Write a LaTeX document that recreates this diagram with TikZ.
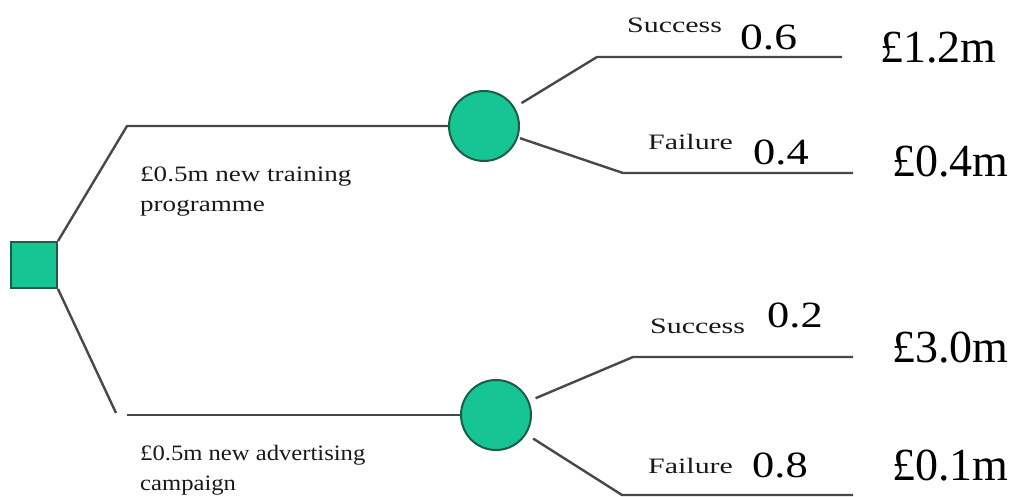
\documentclass[tikz,border=0pt]{standalone}
\usepackage{fontspec}
\usepackage{graphicx}
\usepackage{xcolor}
\setmainfont{Liberation Serif}
\definecolor{nodegreen}{RGB}{22,196,148}
\definecolor{rimgreen}{RGB}{28,92,72}
\definecolor{linegray}{RGB}{72,72,72}
\newcommand{\wide}[2]{\scalebox{#1}[1]{#2}}

\begin{document}
\begin{tikzpicture}[x=1pt, y=-1pt,
  branch/.style={draw=linegray, line width=2.4pt},
  decision/.style={rectangle, draw=rimgreen, fill=nodegreen, line width=2pt, minimum size=46pt, inner sep=0pt},
  chance/.style={circle, draw=rimgreen, fill=nodegreen, line width=2pt, minimum size=70pt, inner sep=0pt},
  small/.style={font=\fontsize{22}{30}\selectfont, text=black!90, inner sep=0pt, anchor=base west, align=left},
  prob/.style={font=\fontsize{37}{40}\selectfont, inner sep=0pt, anchor=base west},
  payoff/.style={font=\fontsize{46}{50}\selectfont, inner sep=0pt, anchor=base west}]
\useasboundingbox (0,0) rectangle (1012,497);
% decision and chance nodes
\node[decision] (choice) at (34,265) {};
\node[chance] (train) at (484,126) {};
\node[chance] (advert) at (496,415) {};
% knees and ends of the branches
\coordinate (trainknee) at (127,126);
\coordinate (advknee) at (116,413);
\coordinate (advstart) at (127,415);
\coordinate (s1knee) at (597,57);
\coordinate (s1end) at (842,57);
\coordinate (f1knee) at (623,173);
\coordinate (f1end) at (853,173);
\coordinate (s2knee) at (633,357);
\coordinate (s2end) at (853,357);
\coordinate (f2knee) at (622,495);
\coordinate (f2end) at (853,495);
\draw[branch] (choice.north east) -- (trainknee) -- (train);
\draw[branch] (choice.south east) -- (advknee);
\draw[branch] (advstart) -- (advert);
\draw[branch, shorten <=8pt] (train) -- (s1knee) -- (s1end);
\draw[branch, shorten <=2pt] (train) -- (f1knee) -- (f1end);
\draw[branch, shorten <=7pt] (advert) -- (s2knee) -- (s2end);
\draw[branch, shorten <=8pt] (advert) -- (f2knee) -- (f2end);
% options
\node[small] (trainlabel) at (140,212) {\wide{1.23}{£0.5m new training}\\\wide{1.23}{programme}};
\node[small] (advlabel) at (140,490) {\wide{1.12}{£0.5m new advertising}\\\wide{1.12}{campaign}};
% outcomes
\node[small] (s1label) at (627,33) {\wide{1.36}{Success}};
\node[prob] (s1prob) at (740,50) {\wide{1.23}{0.6}};
\node[payoff] (s1pay) at (880,63) {£1.2m};
\node[small] (f1label) at (648,150) {\wide{1.36}{Failure}};
\node[prob] (f1prob) at (753,165) {\wide{1.2}{0.4}};
\node[payoff] (f1pay) at (892,177) {£0.4m};
\node[small] (s2label) at (650,333) {\wide{1.36}{Success}};
\node[prob] (s2prob) at (767,327) {\wide{1.2}{0.2}};
\node[payoff] (s2pay) at (892,362) {£3.0m};
\node[small] (f2label) at (648,473) {\wide{1.36}{Failure}};
\node[prob] (f2prob) at (752,477) {\wide{1.2}{0.8}};
\node[payoff] (f2pay) at (892,480) {£0.1m};
\end{tikzpicture}
\end{document}
